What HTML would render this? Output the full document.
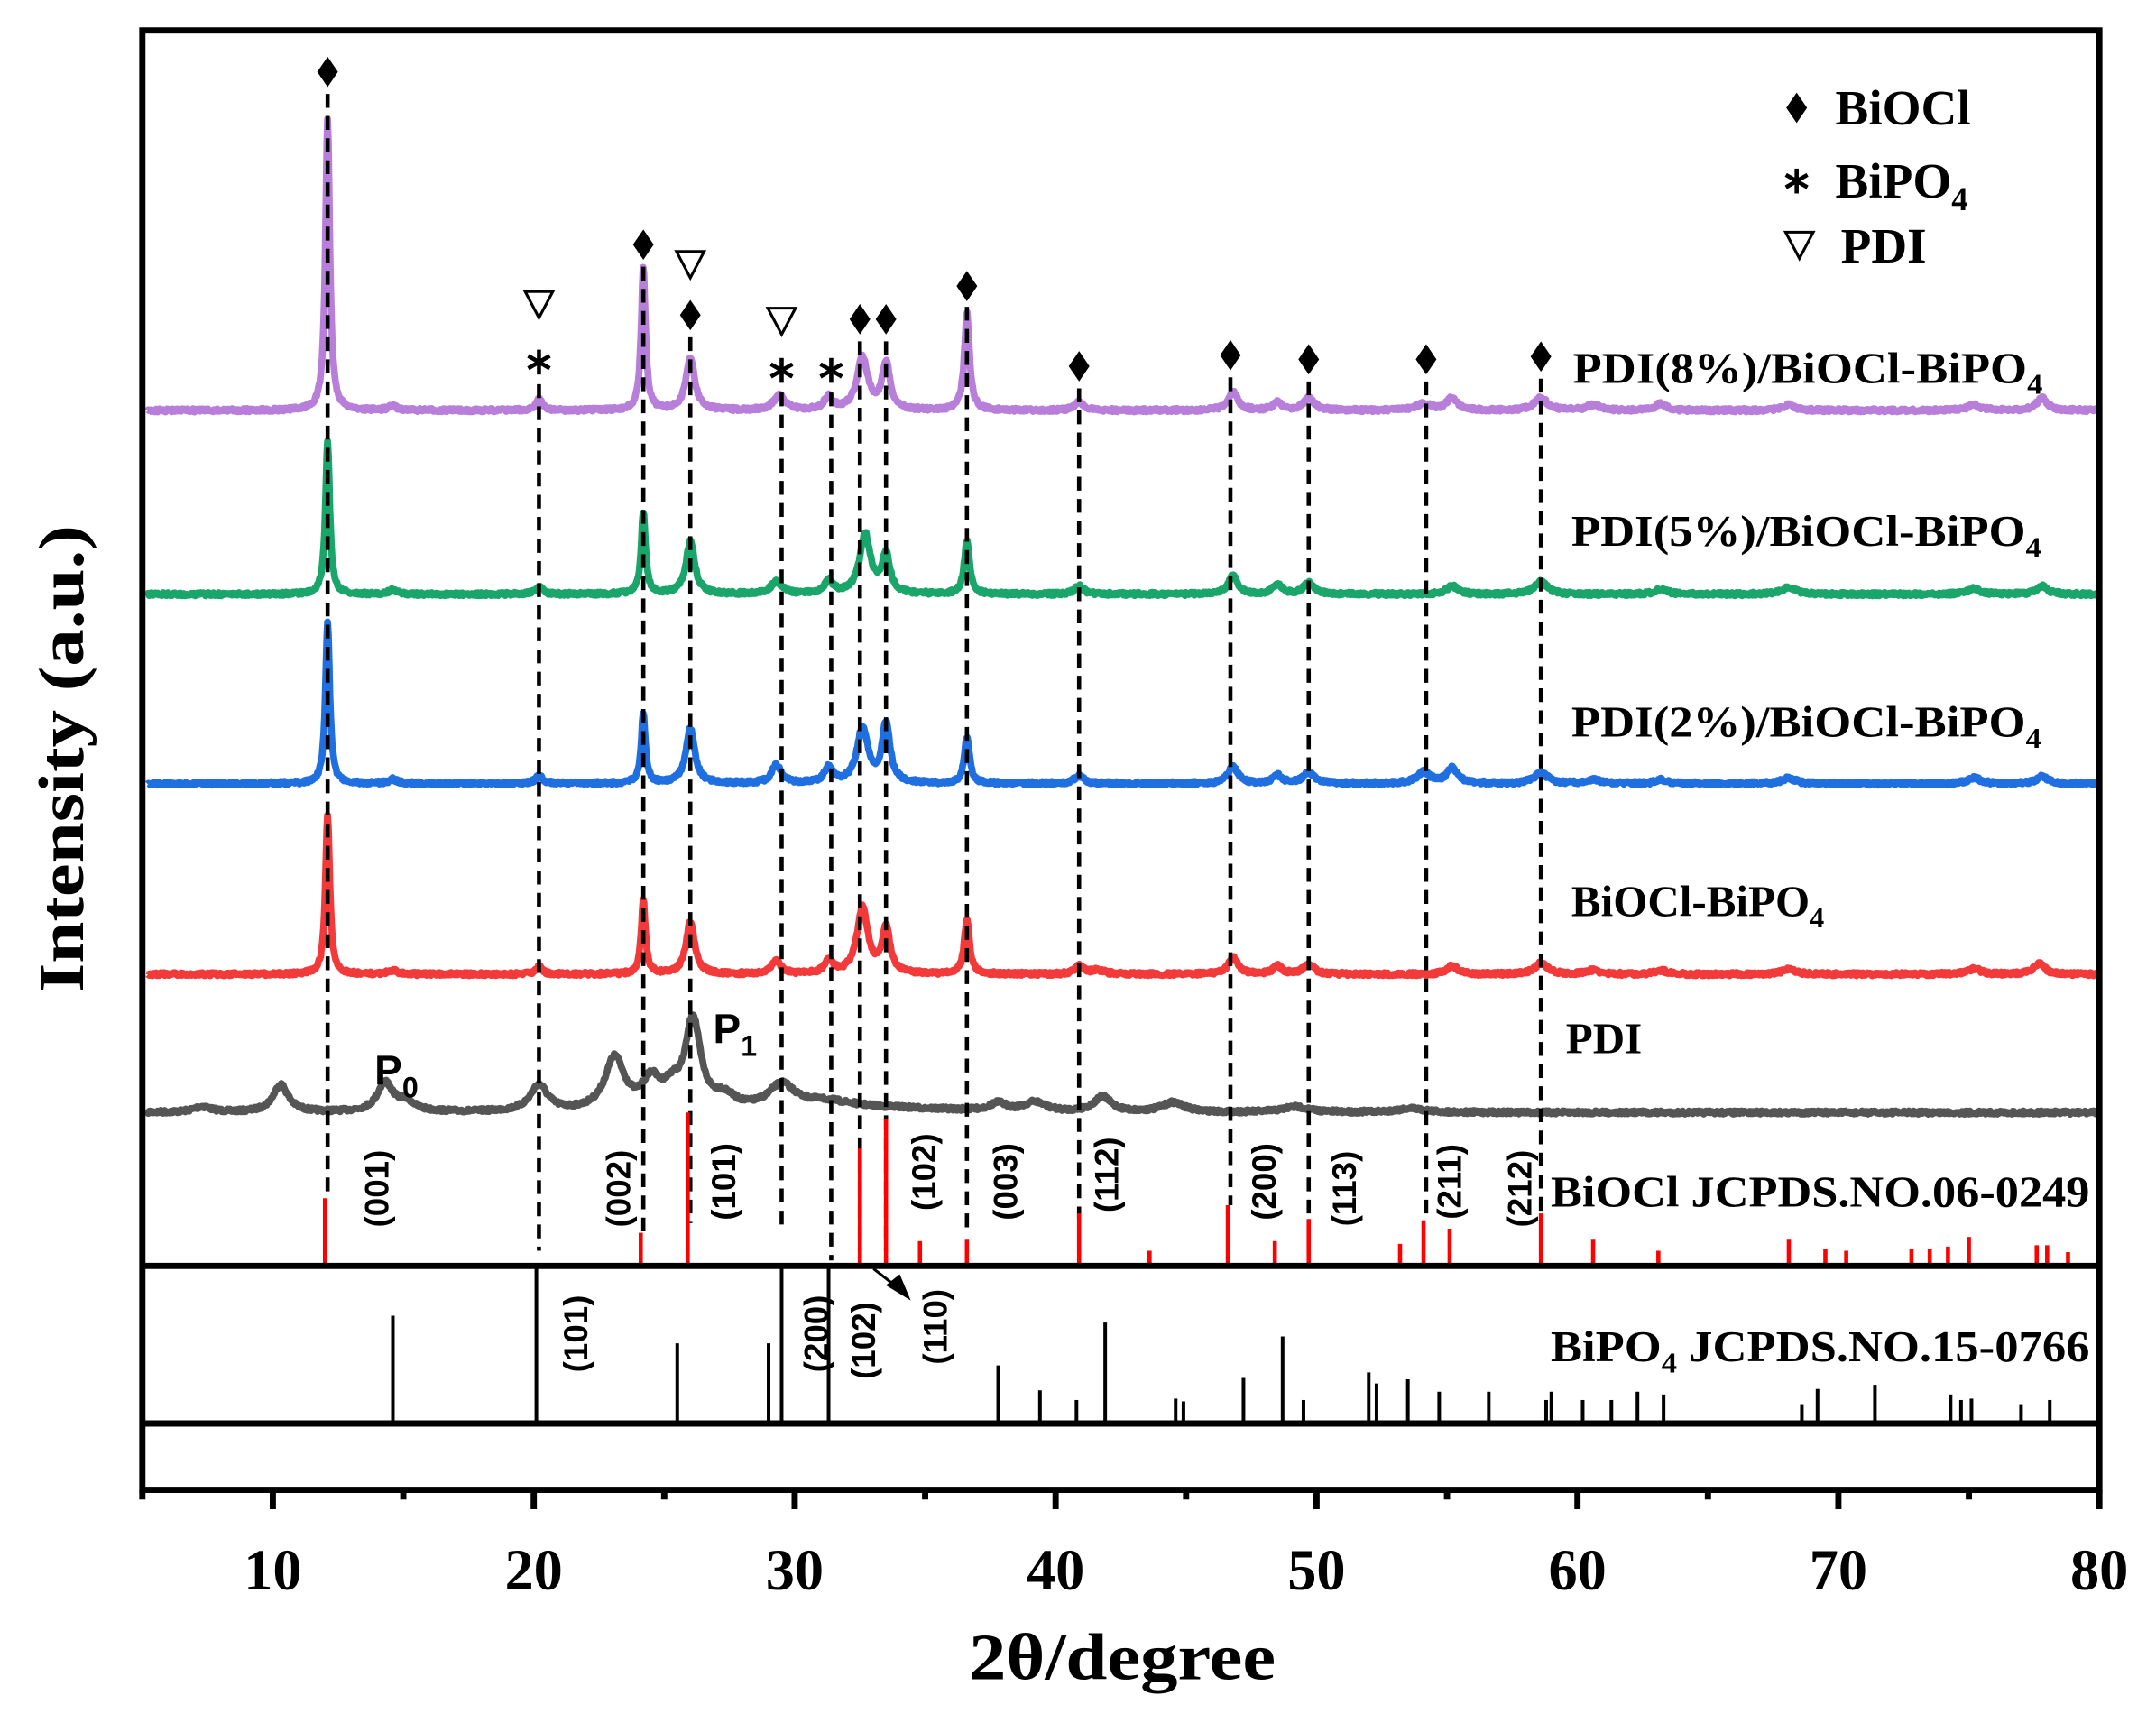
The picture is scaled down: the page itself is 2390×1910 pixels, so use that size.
<!DOCTYPE html>
<html><head><meta charset="utf-8">
<style>
html,body{margin:0;padding:0;background:#fff;}
svg{display:block;}
.serif{font-family:"Liberation Serif",serif;font-weight:bold;}
.sans{font-family:"Liberation Sans",sans-serif;font-weight:bold;}
</style></head>
<body>
<svg id="s" width="2390" height="1910" viewBox="0 0 1560 1246.7" xmlns="http://www.w3.org/2000/svg">
<rect x="0" y="0" width="1560" height="1246.7" fill="#fff"/>
<g id="curves"></g>
<g id="dash"></g>
<g id="sticks"></g>
<g id="marks"></g>
<!-- frame -->
<g stroke="#000" stroke-width="4.5" fill="none">
<rect x="103" y="22" width="1416" height="1056"/>
<line x1="103" y1="916" x2="1519" y2="916"/>
<line x1="103" y1="1030" x2="1519" y2="1030"/>
</g>
<g id="ticks" stroke="#000" stroke-width="4.5"></g>
<g class="serif" font-size="42" text-anchor="middle" id="tl"></g>
<text class="serif" x="812" y="1215" font-size="48" text-anchor="middle" textLength="222" lengthAdjust="spacingAndGlyphs">2θ/degree</text>
<text class="serif" transform="translate(60,549) rotate(-90)" font-size="46" text-anchor="middle" textLength="338" lengthAdjust="spacingAndGlyphs">Intensity (a.u.)</text>
<g class="serif" font-size="32">
<text x="1138" y="277" textLength="340" lengthAdjust="spacingAndGlyphs">PDI(8%)/BiOCl-BiPO<tspan font-size="21" dy="8">4</tspan></text>
<text x="1137" y="395" textLength="340" lengthAdjust="spacingAndGlyphs">PDI(5%)/BiOCl-BiPO<tspan font-size="21" dy="8">4</tspan></text>
<text x="1137" y="533" textLength="340" lengthAdjust="spacingAndGlyphs">PDI(2%)/BiOCl-BiPO<tspan font-size="21" dy="8">4</tspan></text>
<text x="1137" y="663">BiOCl-BiPO<tspan font-size="21" dy="8">4</tspan></text>
<text x="1133" y="762">PDI</text>
<text x="1122" y="873" textLength="390" lengthAdjust="spacingAndGlyphs">BiOCl JCPDS.NO.06-0249</text>
<text x="1122" y="985" textLength="390" lengthAdjust="spacingAndGlyphs">BiPO<tspan font-size="21" dy="8">4</tspan><tspan dy="-8"> JCPDS.NO.15-0766</tspan></text>
</g>
<g class="serif" font-size="36">
<text x="1328" y="90">BiOCl</text>
<text x="1328" y="143">BiPO<tspan font-size="24" dy="9">4</tspan></text>
<text x="1332" y="190">PDI</text>
</g>
<g class="sans" font-size="30">
<text x="271" y="785">P<tspan font-size="21" dy="9">0</tspan></text>
<text x="516" y="755">P<tspan font-size="21" dy="9">1</tspan></text>
</g>
<g class="sans" font-size="24" id="hkl"></g>
<line x1="632" y1="918" x2="650" y2="932" stroke="#000" stroke-width="2"/>
<polygon points="659,941 641,930 651,922" fill="#000"/>
</svg>
<script>
var NS="http://www.w3.org/2000/svg";
function X(t){return 103+(t-5)*1416/75;}
function el(tag,attrs,parent,txt){var e=document.createElementNS(NS,tag);for(var k in attrs)e.setAttribute(k,attrs[k]);if(txt!==undefined)e.textContent=txt;parent.appendChild(e);return e;}
var seed=7;function rnd(){seed=(seed*16807)%2147483647;return seed/2147483647;}
function curve(base,peaks,color,w,slope,noise){
  var d="";
  for(var t=5.2;t<=80.001;t+=0.03){
    var y=base+(slope?slope(t):0);
    for(var i=0;i<peaks.length;i++){var p=peaks[i];var g=(t-p[0])/p[2];y-=p[1]/(1+g*g);}
    y+=(rnd()-0.5)*noise;
    d+=(d?"L":"M")+X(t).toFixed(1)+","+y.toFixed(1);
  }
  el("path",{d:d,stroke:color,"stroke-width":w,fill:"none","stroke-linejoin":"round"},document.getElementById("curves"));
}
curve(805,[[7.3,4,0.4],[10.3,20,0.35],[14.3,21,0.35],[15.1,7,0.4],[20.2,19,0.4],[23.1,38,0.45],[24.5,20,0.4],[25.3,13,0.4],[26.1,64,0.35],[27.3,9,0.5],[29.5,17,0.6],[31.2,6,1.5],[37.8,6,0.4],[39.2,7,0.5],[41.8,11,0.4],[44.5,7,0.5],[49.2,4,0.6],[53.6,3,0.6]],"#555",5,function(t){return t<38?-(t>27? (t-27)*0.3:0)*(t<34?1:(38-t)/4):0;},2.4);
curve(297,[[12.1,210,0.1],[14.6,3,0.2],[20.2,8,0.15],[24.2,103,0.1],[26.0,38,0.2],[29.4,11,0.25],[31.3,9,0.2],[32.6,38,0.25],[33.5,34,0.18],[36.6,70,0.12],[40.9,6,0.2],[46.8,13,0.22],[48.5,6,0.2],[49.7,9,0.25],[54.1,5,0.3],[55.2,9,0.25],[58.6,9,0.3],[60.6,4,0.3],[63.2,5,0.25],[68.1,4,0.3],[75.2,4,0.3],[77.8,9,0.25]],"#b77fd9",5,null,2.4);
curve(430,[[12.1,110,0.1],[14.6,3,0.2],[20.2,6,0.15],[24.2,60,0.1],[26.0,38,0.2],[29.3,9,0.25],[31.3,9,0.2],[32.7,43,0.25],[33.5,28,0.18],[36.6,39,0.12],[40.9,6,0.2],[46.8,13,0.22],[48.5,7,0.2],[49.7,8,0.25],[55.2,6,0.25],[58.6,9,0.3],[63.2,4,0.25],[68.1,5,0.3],[75.2,4,0.3],[77.8,6,0.25]],"#1aa56a",5,null,2.4);
curve(567,[[12.1,116,0.1],[14.6,3,0.2],[20.2,6,0.15],[24.2,50,0.1],[26.0,40,0.2],[29.3,13,0.22],[31.3,11,0.2],[32.6,40,0.25],[33.5,43,0.18],[36.6,34,0.12],[40.9,6,0.2],[46.8,13,0.22],[48.5,6,0.2],[49.7,8,0.25],[54.1,8,0.3],[55.2,11,0.25],[58.6,8,0.3],[60.6,3,0.3],[63.2,3,0.25],[68.1,4,0.3],[75.2,4,0.3],[77.8,5,0.25]],"#1f6fe0",5,null,2.4);
curve(705,[[12.1,116,0.1],[14.6,3,0.2],[20.2,6,0.15],[24.2,53,0.1],[26.0,38,0.2],[29.3,9,0.22],[31.3,9,0.2],[32.6,48,0.25],[33.5,33,0.18],[36.6,40,0.12],[40.9,6,0.2],[41.6,3,0.3],[46.8,12,0.22],[48.5,6,0.2],[49.7,7,0.25],[55.2,6,0.25],[58.6,8,0.3],[60.6,3,0.3],[63.2,3,0.25],[68.1,4,0.3],[75.2,4,0.3],[77.7,8,0.25]],"#f23a3a",5,null,2.4);
var S=document.getElementById("sticks");
var red=[[12.0,867],[24.1,892],[25.9,805],[32.5,831],[33.5,810],[34.8,898],[36.6,897],[40.9,878],[43.6,905],[46.6,872],[48.4,898],[49.7,882],[53.2,900],[54.1,883],[55.1,889],[58.6,878],[60.6,897],[63.1,905],[68.1,897],[69.5,904],[70.3,905],[72.8,904],[73.5,904],[74.2,902],[75.0,895],[77.6,901],[78.0,901],[78.8,906]];
red.forEach(function(r){el("line",{x1:X(r[0]),x2:X(r[0]),y1:r[1],y2:914,stroke:"#f00","stroke-width":3},S);});
var blk=[[14.6,952],[20.1,916],[25.5,972],[29.0,972],[29.5,916],[31.3,916],[37.8,988],[39.4,1006],[40.8,1013],[41.9,957],[44.6,1012],[44.9,1014],[47.2,997],[48.7,967],[49.5,1013],[52.0,993],[52.3,1001],[53.5,998],[54.7,1007],[56.6,1007],[58.8,1013],[59.0,1007],[60.2,1013],[61.3,1013],[62.3,1007],[63.3,1009],[68.6,1016],[69.2,1005],[71.4,1002],[74.3,1009],[74.7,1013],[75.1,1012],[77.0,1016],[78.1,1013]];
blk.forEach(function(r){el("line",{x1:X(r[0]),x2:X(r[0]),y1:r[1],y2:1029,stroke:"#000","stroke-width":2.6},S);});
var D=document.getElementById("dash");
var dl=[[12.1,68,862],[20.2,278,905],[24.2,193,892],[26.0,244,885],[29.5,284,890],[31.4,284,912],[32.5,247,905],[33.5,247,905],[36.6,222,890],[40.9,281,882],[46.7,273,872],[49.7,276,882],[54.2,276,878],[58.6,274,880]];
dl.forEach(function(r){el("line",{x1:X(r[0]),x2:X(r[0]),y1:r[1],y2:r[2],stroke:"#000","stroke-width":3,"stroke-dasharray":"10,6"},D);});
var M=document.getElementById("marks");
function dia(x,y){el("polygon",{points:(x)+","+(y-11)+" "+(x+7.5)+","+y+" "+x+","+(y+11)+" "+(x-7.5)+","+y,fill:"#000"},M);}
function tri(x,y){el("polygon",{points:(x-10)+","+(y-9)+" "+(x+10)+","+(y-9)+" "+x+","+(y+10),fill:"none",stroke:"#000","stroke-width":2},M);}
function star(x,y){for(var a=0;a<3;a++){var an=Math.PI/2+a*Math.PI/3;var dx=Math.cos(an)*9,dy=Math.sin(an)*9;el("line",{x1:x-dx,y1:y-dy,x2:x+dx,y2:y+dy,stroke:"#000","stroke-width":3},M);}}
dia(X(12.1),52);dia(X(24.2),177);tri(X(26.0),191);dia(X(26.0),228);
tri(X(20.2),220);star(X(20.2),262);tri(X(29.5),232);star(X(29.5),268);star(X(31.4),268);
dia(X(32.5),231);dia(X(33.5),231);dia(X(36.6),207);dia(X(40.9),265);dia(X(46.7),257);dia(X(49.7),260);dia(X(54.2),260);dia(X(58.6),258);
dia(1300,78);star(1300,131);tri(1302,177);
var T=document.getElementById("ticks"),TL=document.getElementById("tl");
for(var t=5;t<=80;t+=5){var maj=(t%10==0);el("line",{x1:X(t),x2:X(t),y1:1078,y2:maj?1092:1085},T);
 if(maj)el("text",{x:X(t),y:1150},TL,String(t));}
var H=document.getElementById("hkl");
var hk=[[272,860,"(001)"],[447,860,"(002)"],[523,855,"(101)"],[668,848,"(102)"],[727,855,"(003)"],[800,850,"(112)"],[914,855,"(200)"],[972,860,"(113)"],[1048,855,"(211)"],[1099,860,"(212)"],[416,965,"(101)"],[590,965,"(200)"],[624,970,"(102)"],[676,960,"(110)"]];
hk.forEach(function(h){el("text",{transform:"translate("+(h[0]+9)+","+h[1]+") rotate(-90)","text-anchor":"middle"},H,h[2]);});
</script>
</body></html>
